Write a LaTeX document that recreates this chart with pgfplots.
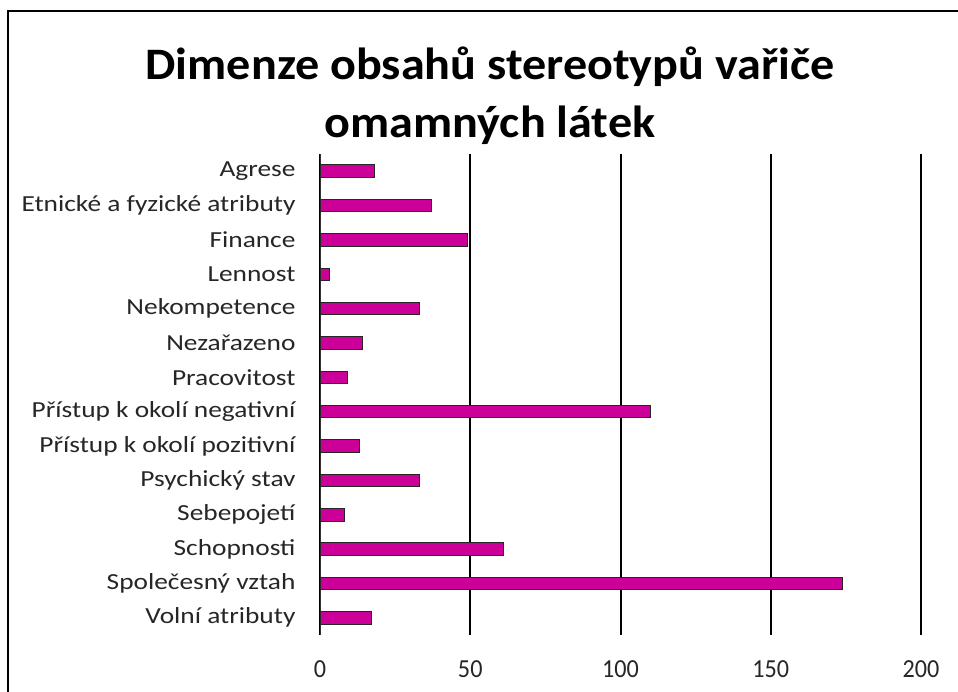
\documentclass[border=0pt]{standalone}
\usepackage{fontspec}
\setmainfont{Carlito}
\newfontfamily\labelfont[FakeStretch=1.19]{Carlito}
\newfontfamily\titlefont[FakeStretch=1.07]{Carlito}
\newfontfamily\tickfont[FakeStretch=0.93]{Carlito}
\usepackage{pgfplots}
\pgfplotsset{compat=1.18}
\definecolor{barmag}{RGB}{204,0,153}
\begin{document}
\begin{tikzpicture}
\path[use as bounding box] (0bp,0bp) rectangle (958bp,692bp);
\draw[line width=1.5bp, black] (8bp,0bp) -- (8bp,681bp) -- (958bp,681bp);
\node[font=\titlefont\fontsize{45bp}{58bp}\selectfont\bfseries, align=center] at (490bp,596bp) {Dimenze obsahů stereotypů vařiče\\omamných látek};
\begin{axis}[
  at={(320bp,57bp)}, anchor=south west,
  scale only axis, width=601bp, height=481bp,
  xbar, bar width=12.5bp,
  xmin=0, xmax=200, ymin=-0.5, ymax=13.5,
  y dir=reverse,
  xtick={0,50,100,150,200},
  ytick={0,...,13},
  yticklabels={Agrese,Etnické a fyzické atributy,Finance,Lennost,Nekompetence,Nezařazeno,Pracovitost,Přístup k okolí negativní,Přístup k okolí pozitivní,Psychický stav,Sebepojetí,Schopnosti,Společesný vztah,Volní atributy},
  axis lines=left,
  x axis line style={draw=none},
  y axis line style={draw=black!80, line width=1bp, -},
  major tick length=0pt,
  xmajorgrids, major x grid style={black, line width=2bp},
  x tick label style={font=\tickfont\fontsize{26bp}{30bp}\selectfont, text=black!85, yshift=-22bp},
  y tick label style={font=\labelfont\fontsize{23bp}{27bp}\selectfont, text=black!85, xshift=-21bp},
  /pgf/number format/assume math mode=true,
  clip=false,
]
\addplot[fill=barmag, draw=black!85, line width=1bp] coordinates {
(18,0) (37,1) (49,2) (3,3) (33,4) (14,5) (9,6) (110,7) (13,8) (33,9) (8,10) (61,11) (174,12) (17,13)
};
\end{axis}
\end{tikzpicture}
\end{document}
